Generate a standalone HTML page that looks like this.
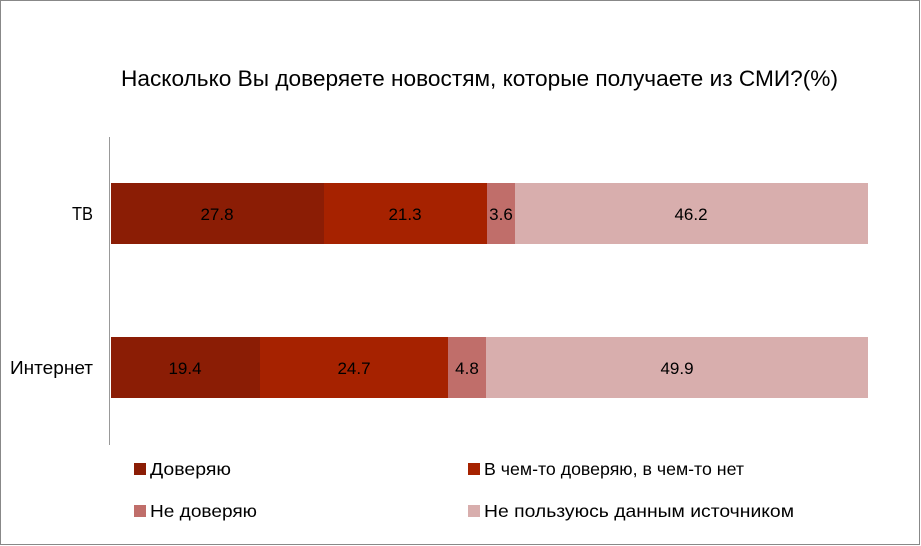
<!DOCTYPE html>
<html><head><meta charset="utf-8"><style>
html,body{margin:0;padding:0;background:#fff}
svg{display:block}
text{font-family:"Liberation Sans","DejaVu Sans",sans-serif;fill:#000}
</style></head><body>
<svg width="921" height="546" viewBox="0 0 921 546">
<rect x="0.5" y="0.5" width="919" height="544" fill="#fff" stroke="#888"/>
<text x="121" y="86" font-size="22" textLength="717" lengthAdjust="spacingAndGlyphs">Насколько Вы доверяете новостям, которые получаете из СМИ?(%)</text>
<line x1="109.5" y1="137" x2="109.5" y2="445" stroke="#999"/>
<rect x="111" y="183" width="213" height="61" fill="#8B1D05"/>
<rect x="324" y="183" width="163" height="61" fill="#A62200"/>
<rect x="487" y="183" width="28" height="61" fill="#C06E6A"/>
<rect x="515" y="183" width="353" height="61" fill="#D8AEAD"/>
<rect x="111" y="337" width="149" height="61" fill="#8B1D05"/>
<rect x="260" y="337" width="188" height="61" fill="#A62200"/>
<rect x="448" y="337" width="38" height="61" fill="#C06E6A"/>
<rect x="486" y="337" width="382" height="61" fill="#D8AEAD"/>
<g font-size="17" text-anchor="middle">
<text x="217" y="220">27.8</text><text x="405" y="220">21.3</text><text x="501" y="220">3.6</text><text x="691" y="220">46.2</text>
<text x="185" y="374">19.4</text><text x="354" y="374">24.7</text><text x="467" y="374">4.8</text><text x="677" y="374">49.9</text>
</g>
<g font-size="18">
<text x="72" y="220" textLength="21" lengthAdjust="spacingAndGlyphs">ТВ</text>
<text x="10" y="374" textLength="83" lengthAdjust="spacingAndGlyphs">Интернет</text>
</g>
<g font-size="17.5">
<rect x="134" y="463" width="12" height="12" fill="#8B1D05"/><text x="150" y="475" textLength="81" lengthAdjust="spacingAndGlyphs">Доверяю</text>
<rect x="468" y="463" width="12" height="12" fill="#A62200"/><text x="484" y="475" textLength="260" lengthAdjust="spacingAndGlyphs">В чем-то доверяю, в чем-то нет</text>
<rect x="134" y="505" width="12" height="12" fill="#C06E6A"/><text x="150" y="517" textLength="107" lengthAdjust="spacingAndGlyphs">Не доверяю</text>
<rect x="468" y="505" width="12" height="12" fill="#D8AEAD"/><text x="484" y="517" textLength="310" lengthAdjust="spacingAndGlyphs">Не пользуюсь данным источником</text>
</g>
</svg>
</body></html>
